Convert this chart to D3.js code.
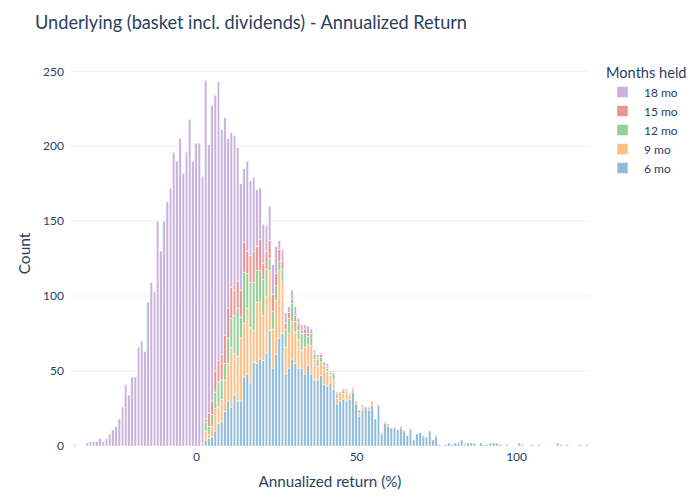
<!DOCTYPE html>
<html><head><meta charset="utf-8">
<script src="https://cdn.jsdelivr.net/npm/d3@7"></script>
<style>body{margin:0;background:#fff}svg{display:block}</style>
</head><body>
<svg id="chart" width="700" height="500"></svg>
<script>
// ---- data (bin centres are integers, bin width 1 %) ----
const seriesNames = ["6 mo", "9 mo", "12 mo", "15 mo", "18 mo"];   // stacking order, bottom to top
const legendOrder = ["18 mo", "15 mo", "12 mo", "9 mo", "6 mo"];

const start18 = -38;
const counts18 = [1,0,0,0,2,3,3,3,5,3,
  5,8,11,13,18,26,41,34,46,46,
  66,70,63,96,109,103,150,130,150,163,
  172,196,190,205,182,196,218,190,202,202,
  178,226,179,197,184,186,150,145,113,103,
  103,89,71,49,60,50,49,38,34,26,
  17,23,20,18,6,8,7,4,6,6,
  3,4,3,5,3,2,2,1,2,2,
  1,1,1,0,0,0,0,1];

const start15 = 2;
const counts15 = [1,2,9,9,14,14,17,19,20,21,
  17,18,18,20,15,18,21,16,21,11,
  12,12,11,8,8,5,4,4,3,4,
  5,2,3,2,0,1,1,2,1,1,
  1,1,1,0,1,1,0,0,0,0,1];

const start12 = 2;
const counts12 = [0,6,5,8,11,17,13,11,17,19,
  25,32,14,34,23,30,32,21,21,24,
  18,8,12,10,6,8,12,10,12,7,
  6,11,9,5,8,3,5,3,2,2,
  1,4,2,0,2,0,1,0,0,2,
  0,0,0,0,0,0,0,1,0,0,
  0,0,1,0,0,0,0,0,0,1,
  0,0,0,1];

const start9 = 2;
const counts9 = [0,6,3,7,15,11,15,21,25,40,
  28,30,42,36,44,37,21,41,38,30,
  38,40,26,36,45,35,18,23,25,21,
  19,12,18,14,19,14,9,9,10,10,
  5,6,4,6,4,7,3,2,2,2,
  2,0,2,3,0,1,1,0,2,0,
  1,0,0,0,0,1,0,0,0,0,
  0,0,0,0,0,0,0,0,0,0,
  1,0,1,0,0,0,0,0,1];

const start6 = 2;
const counts6 = [1,4,5,6,10,15,16,23,30,26,
  34,30,30,46,48,42,56,55,58,57,
  62,77,52,61,72,75,48,52,58,55,
  52,52,48,54,48,44,44,47,41,40,
  42,38,28,30,31,30,31,36,28,20,
  24,26,24,27,18,27,8,15,13,12,
  12,11,12,10,7,11,4,8,9,6,
  6,10,4,6,1,0,1,2,1,2,
  2,4,1,2,2,2,0,2,0,1,
  2,2,2,1,0,1,0,0,0,2,
  1,0,0,1,0,1,0,0,0,0,
  0,2,1,0,1,0,0,0,1,0,1];

const xTicks = [0, 50, 100];
const yTicks = [0, 50, 100, 150, 200, 250];

const colors = {
  "6 mo": "#8fbbd9",
  "9 mo": "#ffbf86",
  "12 mo": "#95cf95",
  "15 mo": "#ea9393",
  "18 mo": "#c9b3de"
};

const seriesData = {
  "6 mo": [start6, counts6],
  "9 mo": [start9, counts9],
  "12 mo": [start12, counts12],
  "15 mo": [start15, counts15],
  "18 mo": [start18, counts18]
};

// ---- table for d3.stack ----
const binMin = -38, binMax = 122;
const table = [];
for (let b = binMin; b <= binMax; b++) {
  const row = {bin: b};
  seriesNames.forEach(k => {
    const [s, arr] = seriesData[k];
    const i = b - s;
    row[k] = (i >= 0 && i < arr.length) ? arr[i] : 0;
  });
  table.push(row);
}
const stacked = d3.stack().keys(seriesNames)(table);

// ---- layout ----
const svg = d3.select("#chart");
const font = "Lato, 'Open Sans', sans-serif";
const textColor = "#2a3f5f";
const plot = {left: 70, right: 590, top: 61, bottom: 446};

const x = d3.scaleLinear().domain([-39.4, 123.1]).range([plot.left, plot.right]);
const y = d3.scaleLinear().domain([0, 256.8]).range([plot.bottom, plot.top]);

svg.append("rect").attr("width", 700).attr("height", 500).attr("fill", "#fff");

// gridlines
svg.append("g").selectAll("line").data(yTicks.filter(d => d > 0)).join("line")
  .attr("x1", plot.left).attr("x2", plot.right)
  .attr("y1", d => y(d)).attr("y2", d => y(d))
  .attr("stroke", "#ebf0f8").attr("stroke-width", 1);

// bars
svg.append("clipPath").attr("id", "plotclip").append("rect")
  .attr("x", plot.left).attr("y", plot.top)
  .attr("width", plot.right - plot.left).attr("height", plot.bottom - plot.top);

const barsG = svg.append("g").attr("clip-path", "url(#plotclip)");
stacked.forEach(layer => {
  barsG.append("g").selectAll("rect")
    .data(layer.filter(d => d[1] - d[0] > 0))
    .join("rect")
    .attr("x", d => x(d.data.bin - 0.5) + 0.35)
    .attr("width", d => x(d.data.bin + 0.5) - x(d.data.bin - 0.5) - 0.7)
    .attr("y", d => y(d[1]))
    .attr("height", d => y(d[0]) - y(d[1]))
    .attr("fill", colors[layer.key])
    .attr("stroke", "#ffffff")
    .attr("stroke-width", 0.5);
});

// axes
const yAxis = svg.append("g").attr("transform", `translate(${plot.left},0)`)
  .call(d3.axisLeft(y).tickValues(yTicks).tickSize(0).tickPadding(6));
yAxis.select(".domain").remove();
yAxis.selectAll("text").attr("font-family", font).attr("font-size", 12).attr("fill", textColor);

const xAxis = svg.append("g").attr("transform", `translate(0,${plot.bottom})`)
  .call(d3.axisBottom(x).tickValues(xTicks).tickFormat(d3.format("d")).tickSize(0).tickPadding(6));
xAxis.select(".domain").remove();
xAxis.selectAll("text").attr("font-family", font).attr("font-size", 12).attr("fill", textColor);

// titles
svg.append("text").attr("x", 35).attr("y", 29)
  .attr("font-family", font).attr("font-size", 19.5).attr("fill", textColor)
  .attr("textLength", 432).attr("lengthAdjust", "spacingAndGlyphs")
  .text("Underlying (basket incl. dividends) - Annualized Return");

svg.append("text").attr("x", (plot.left + plot.right) / 2).attr("y", 487)
  .attr("text-anchor", "middle")
  .attr("font-family", font).attr("font-size", 15.2).attr("fill", textColor)
  .text("Annualized return (%)");

svg.append("text").attr("transform", `translate(30,${(plot.top + plot.bottom) / 2}) rotate(-90)`)
  .attr("text-anchor", "middle")
  .attr("font-family", font).attr("font-size", 15.5).attr("fill", textColor)
  .text("Count");

// legend
const legend = svg.append("g");
legend.append("text").attr("x", 606).attr("y", 78)
  .attr("font-family", font).attr("font-size", 14.6).attr("fill", textColor)
  .text("Months held");
legendOrder.forEach((k, i) => {
  const cy = 92 + i * 19;
  legend.append("rect").attr("x", 617).attr("y", cy - 5.5).attr("width", 11).attr("height", 11)
    .attr("fill", colors[k]).attr("stroke", "#fff").attr("stroke-width", 0.5);
  legend.append("text").attr("x", 644).attr("y", cy + 4.5)
    .attr("font-family", font).attr("font-size", 12).attr("fill", textColor)
    .text(k);
});
</script>
</body></html>
